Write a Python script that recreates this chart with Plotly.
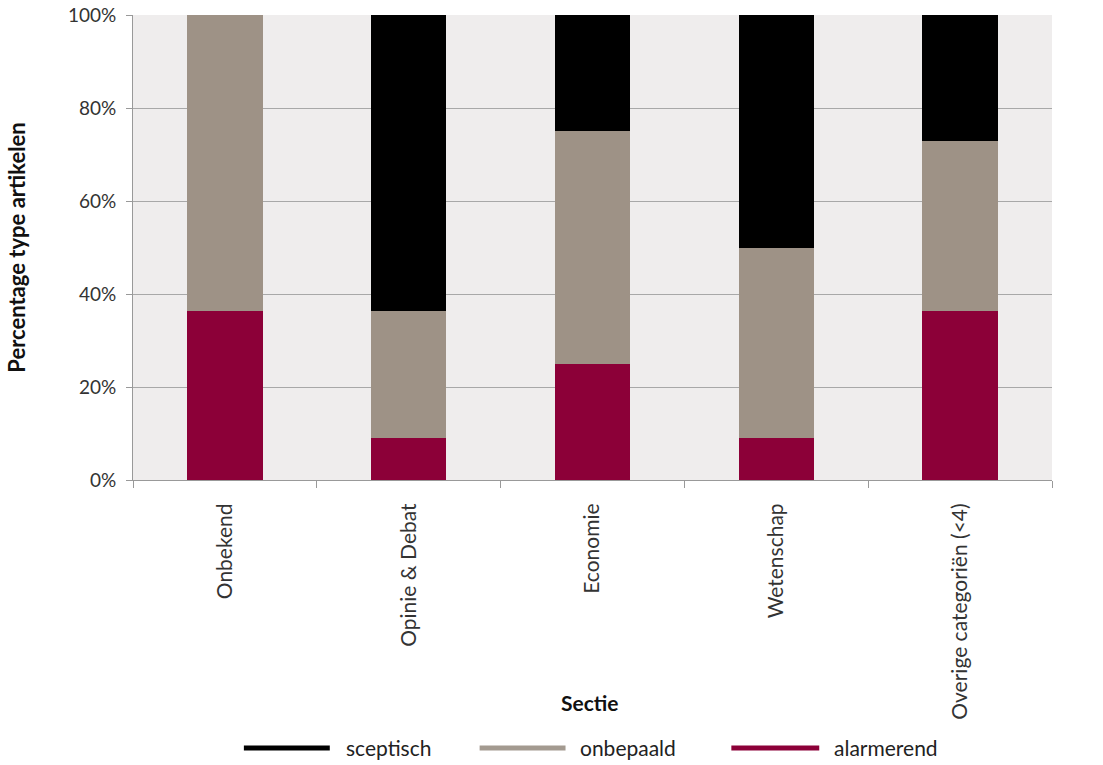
import plotly.graph_objects as go

categories = ["Onbekend", "Opinie & Debat", "Economie", "Wetenschap", "Overige categoriën (<4)"]
alarmerend = [36.4, 9.1, 25.0, 9.1, 36.4]
onbepaald = [63.6, 27.3, 50.0, 40.9, 36.4]
sceptisch = [0.0, 63.6, 25.0, 50.0, 27.3]
y_ticks = [0, 20, 40, 60, 80, 100]
y_labels = ["0%", "20%", "40%", "60%", "80%", "100%"]
legend_names = ["sceptisch", "onbepaald", "alarmerend"]

C_ALARM = "#8c0038"
C_ONB = "#9e9286"
C_SCEP = "#000000"
FONT = "Lato"

fig = go.Figure()
for name, vals, col in [("alarmerend", alarmerend, C_ALARM),
                        ("onbepaald", onbepaald, C_ONB),
                        ("sceptisch", sceptisch, C_SCEP)]:
    fig.add_trace(go.Bar(x=categories, y=vals, name=name,
                         marker=dict(color=col, line=dict(width=0)),
                         showlegend=False))

# custom legend (long line samples like the reference)
L, T, PW, PH = 133, 15, 920, 465
def px_x(p):
    return (p - L) / PW
def px_y(p):
    return (T + PH - p) / PH

legend_cols = [C_SCEP, "#a39a90", C_ALARM]
legend_line_x = [(244, 330), (480, 566), (732, 820)]
legend_text_x = [344, 578, 833]
legend_y = 748
shapes = []
annotations = []
for name, col, (x0, x1), tx in zip(legend_names, legend_cols, legend_line_x, legend_text_x):
    shapes.append(dict(type="line", xref="paper", yref="paper",
                       x0=px_x(x0), x1=px_x(x1), y0=px_y(legend_y), y1=px_y(legend_y),
                       line=dict(color=col, width=5)))
    annotations.append(dict(text=name, xref="paper", yref="paper", x=px_x(tx), y=px_y(legend_y),
                            xanchor="left", yanchor="middle", showarrow=False,
                            font=dict(family=FONT, size=21, color="#222222")))

annotations.append(dict(text="<b>Sectie</b>", x=px_x(590), y=px_y(702), xref="paper", yref="paper",
                        showarrow=False, font=dict(family=FONT, size=21, color="#111111"),
                        xanchor="center", yanchor="middle"))

fig.update_layout(
    barmode="stack",
    bargap=0.59,
    width=1103, height=765,
    margin=dict(l=133, r=51, t=15, b=285, autoexpand=False),
    paper_bgcolor="white",
    plot_bgcolor="#efeded",
    font=dict(family=FONT, size=19, color="#333333"),
    showlegend=False,
    shapes=shapes,
    annotations=annotations,
    xaxis=dict(
        type="category", tickangle=-90, tickson="boundaries", ticks="outside", ticklen=7,
        tickcolor="#999999", showline=True, linecolor="#999999", linewidth=1,
        showgrid=False, tickfont=dict(family=FONT, size=21, color="#333333"),
        ticklabelstandoff=14,
    ),
    yaxis=dict(
        range=[0, 100], tickmode="array", tickvals=y_ticks, ticktext=y_labels,
        ticks="outside", ticklen=6, ticklabelstandoff=6,
        tickcolor="#999999", showline=True, linecolor="#999999", linewidth=1,
        gridcolor="#a8a8a8", gridwidth=1, zeroline=False,
        tickfont=dict(family=FONT, size=19, color="#333333"),
        title=dict(text="<b>Percentage type artikelen</b>",
                   font=dict(family=FONT, size=22, color="#111111"), standoff=36),
    ),
)
fig.write_html("out.html")
